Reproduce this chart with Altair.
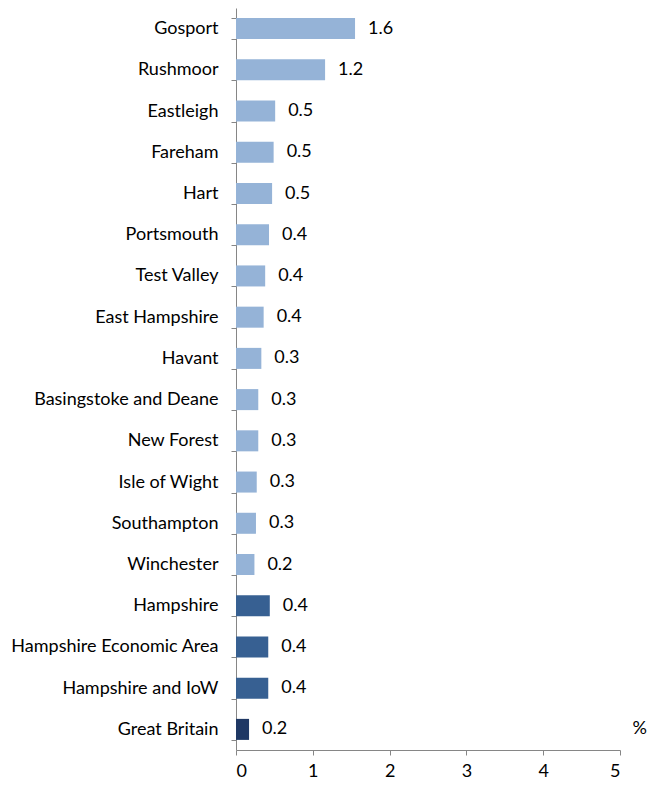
import altair as alt
import pandas as pd

categories = ["Gosport", "Rushmoor", "Eastleigh", "Fareham", "Hart", "Portsmouth",
              "Test Valley", "East Hampshire", "Havant", "Basingstoke and Deane",
              "New Forest", "Isle of Wight", "Southampton", "Winchester",
              "Hampshire", "Hampshire Economic Area", "Hampshire and IoW", "Great Britain"]
values = [1.55, 1.16, 0.51, 0.49, 0.47, 0.43, 0.38, 0.36, 0.33, 0.29,
          0.29, 0.27, 0.26, 0.24, 0.44, 0.42, 0.42, 0.17]
labels = ["1.6", "1.2", "0.5", "0.5", "0.5", "0.4", "0.4", "0.4", "0.3", "0.3",
          "0.3", "0.3", "0.3", "0.2", "0.4", "0.4", "0.4", "0.2"]
groups = ["district"] * 14 + ["county"] * 3 + ["nation"]

df = pd.DataFrame({"area": categories, "value": values, "label": labels, "group": groups})

FONT = "Lato"
FS = 18
AXIS_COLOR = "#868686"

y_enc = alt.Y("area:N", sort=categories,
              scale=alt.Scale(paddingInner=0.49, paddingOuter=0.245),
              axis=alt.Axis(title=None, domainColor=AXIS_COLOR, tickColor=AXIS_COLOR,
                            tickSize=5, tickBand="extent", labelFontSize=FS,
                            labelFont=FONT, labelColor="#000000", labelPadding=13,
                            labelLimit=0, grid=False))

bars = alt.Chart(df).mark_bar().encode(
    x=alt.X("value:Q", scale=alt.Scale(domain=[0, 5], nice=False),
            axis=alt.Axis(values=[0, 1, 2, 3, 4, 5], format="d", title="%",
                          titleX=396, titleY=-22, titleAlign="left",
                          titleBaseline="middle", titleFontSize=FS,
                          titleFontWeight="normal", titleFont=FONT,
                          domainColor=AXIS_COLOR, tickColor=AXIS_COLOR, tickSize=5,
                          labelFontSize=FS, labelFont=FONT, labelColor="#000000",
                          labelPadding=7, grid=False)),
    y=y_enc,
    color=alt.Color("group:N",
                    scale=alt.Scale(domain=["district", "county", "nation"],
                                    range=["#95B3D7", "#376092", "#1F3864"]),
                    legend=None),
)

text = alt.Chart(df).mark_text(align="left", baseline="middle", dx=13, fontSize=FS,
                               font=FONT, color="#000000").encode(
    x="value:Q",
    y=alt.Y("area:N", sort=categories),
    text="label:N",
)

chart = alt.layer(bars, text).properties(
    width=384, height=742,
    autosize=alt.AutoSizeParams(type="none"),
    padding={"left": 228, "top": 0, "right": 29, "bottom": 30},
).configure_view(stroke=None)

chart.save("out.html", embed_options={"renderer": "svg", "actions": False})
